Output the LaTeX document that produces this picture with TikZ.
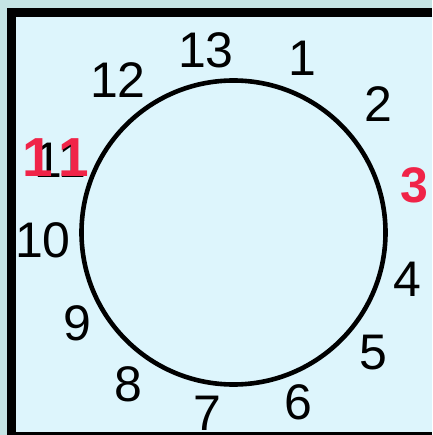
\documentclass[tikz,border=0pt]{standalone}
\usepackage{fontspec}
\setmainfont{Liberation Sans}
\definecolor{outerbg}{RGB}{197,228,228}
\definecolor{innerbg}{RGB}{221,245,252}
\definecolor{hotred}{RGB}{240,36,72}
\tikzset{
  num/.style={inner sep=0pt, anchor=center, font=\fontsize{50}{60}\selectfont, text=black},
  rednum/.style={inner sep=0pt, anchor=center, font=\fontsize{50}{60}\selectfont\bfseries, text=hotred},
  bigred/.style={rednum, font=\fontsize{55}{66}\selectfont\bfseries},
  ring/.style={circle, draw=black, line width=4.6pt, minimum size=304pt, inner sep=0pt}
}
\begin{document}
\begin{tikzpicture}[x=1pt,y=-1pt]
\useasboundingbox (0,0) rectangle (432,435);
\fill[outerbg] (0,0) rectangle (432,435);
\fill[innerbg] (16,17) rectangle (432,432);
\fill[black] (7,8) rectangle (432,17);
\fill[black] (7,8) rectangle (16,435);
\node[ring] (clock) at (233.5,232.5) {};
\node[num] (n13) at (206,50) {13};
\node[num] (n1) at (302,58) {1};
\node[num] (n2) at (378,104) {2};
\node[rednum] (n3) at (414,185) {3};
\node[num] (n4) at (407,279) {4};
\node[num] (n5) at (373,353) {5};
\node[num] (n6) at (298,402) {6};
\node[num] (n7) at (207,413) {7};
\node[num] (n8) at (128,384) {8};
\node[num] (n9) at (77,323) {9};
\node[num] (n10) at (43,240) {10};
\node[num] (n11b) at (60,160) {11};
\node[bigred] (n11a) at (38,158) {1};
\node[bigred] (n11) at (74,158) {1};
\node[num] (n12) at (118,80) {12};
\fill[black] (7,432) rectangle (432,435);
\end{tikzpicture}
\end{document}
